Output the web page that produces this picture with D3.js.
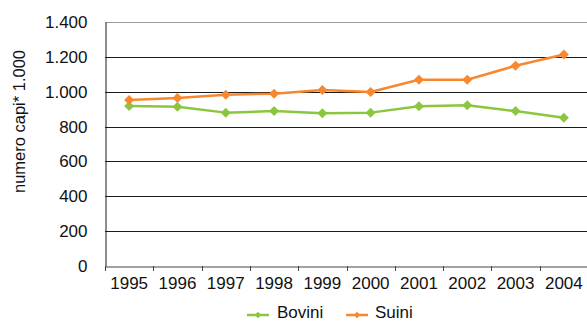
<!DOCTYPE html>
<html>
<head>
<meta charset="utf-8">
<script src="https://cdn.jsdelivr.net/npm/d3@7"></script>
<style>
  body { margin: 0; background: #fff; }
  svg { display: block; font-family: "Liberation Sans", Arial, sans-serif; }
</style>
</head>
<body>
<svg id="chart" width="587" height="322"></svg>
<script>
const years = ["1995","1996","1997","1998","1999","2000","2001","2002","2003","2004"];
const bovini = [918, 914, 880, 889, 876, 880, 916, 922, 889, 851];
const suini = [952, 964, 983, 989, 1010, 998, 1069, 1069, 1149, 1214];
const yTicks = [0, 200, 400, 600, 800, 1000, 1200, 1400];
const seriesNames = ["Bovini", "Suini"];
const seriesColors = ["#8cc63f", "#f7882f"];
const yTitle = "numero capi* 1.000";

(function () {
const svg = d3.select("#chart");
const mLeft = 105, mRight = 588, mTop = 22, mBottom = 266;

const x = d3.scaleBand().domain(years).range([mLeft, mRight]).padding(0);
const y = d3.scaleLinear().domain([0, 1400]).range([mBottom, mTop]);
const fmt = d3.formatLocale({decimal: ",", thousands: ".", grouping: [3], currency: ["", ""]}).format(",");

// gridlines
svg.append("g").selectAll("line").data(yTicks.filter(d => d > 0)).join("line")
  .attr("x1", mLeft).attr("x2", mRight)
  .attr("y1", d => Math.round(y(d)) + 0.5).attr("y2", d => Math.round(y(d)) + 0.5)
  .attr("stroke", d => d === 1400 ? "#9a9a9a" : "#1a1a1a")
  .attr("stroke-width", 1);

// y axis
const yAxis = svg.append("g").attr("transform", `translate(${mLeft + 0.5},0)`)
  .call(d3.axisLeft(y).tickValues(yTicks).tickFormat(fmt).tickSize(0).tickPadding(18));
yAxis.select(".domain").attr("stroke", "#1a1a1a");
yAxis.selectAll("text").attr("font-size", 17).attr("fill", "#111")
  .attr("font-family", "Liberation Sans, Arial, sans-serif");

// x axis
const xAxis = svg.append("g").attr("transform", `translate(0,${mBottom + 0.5})`)
  .call(d3.axisBottom(x).tickSize(0).tickPadding(10));
xAxis.select(".domain").attr("stroke", "#444");
xAxis.selectAll("text").attr("font-size", 17).attr("fill", "#111")
  .attr("font-family", "Liberation Sans, Arial, sans-serif");
// category boundary ticks
const bounds = years.map(d => x(d)).concat([x(years[years.length - 1]) + x.bandwidth()]);
svg.append("g").selectAll("line").data(bounds).join("line")
  .attr("x1", d => Math.round(d) + 0.5).attr("x2", d => Math.round(d) + 0.5)
  .attr("y1", mBottom).attr("y2", mBottom + 5)
  .attr("stroke", "#444");

// y title
svg.append("text")
  .attr("transform", `translate(25,121.5) rotate(-90)`)
  .attr("text-anchor", "middle")
  .attr("font-size", 16.5).attr("fill", "#111")
  .text(yTitle);

const cx = d => x(d) + x.bandwidth() / 2;
const diamond = d3.symbol().type(d3.symbolSquare).size(50);
const diamondSmall = d3.symbol().type(d3.symbolSquare).size(22);

[bovini, suini].forEach((vals, i) => {
  const data = years.map((yr, j) => ({yr, v: vals[j]}));
  const line = d3.line().x(d => cx(d.yr)).y(d => y(d.v));
  svg.append("path").datum(data)
    .attr("d", line).attr("fill", "none")
    .attr("stroke", seriesColors[i]).attr("stroke-width", 2.5)
    .attr("stroke-linejoin", "round");
  svg.append("g").selectAll("path").data(data).join("path")
    .attr("d", diamond)
    .attr("transform", d => `translate(${cx(d.yr)},${y(d.v)}) rotate(45)`)
    .attr("fill", seriesColors[i]);
});

// legend
const legendItems = [{x: 247, tx: 277}, {x: 346, tx: 375}];
seriesNames.forEach((name, i) => {
  const g = svg.append("g");
  const lx = legendItems[i].x, ly = 315;
  g.append("line").attr("x1", lx).attr("x2", lx + 22).attr("y1", ly).attr("y2", ly)
    .attr("stroke", seriesColors[i]).attr("stroke-width", 2.5);
  g.append("path").attr("d", diamondSmall)
    .attr("transform", `translate(${lx + 11},${ly}) rotate(45)`)
    .attr("fill", seriesColors[i]);
  g.append("text").attr("x", legendItems[i].tx).attr("y", 318)
    .attr("font-size", 17).attr("fill", "#111").text(name);
});
})();
</script>
</body>
</html>
